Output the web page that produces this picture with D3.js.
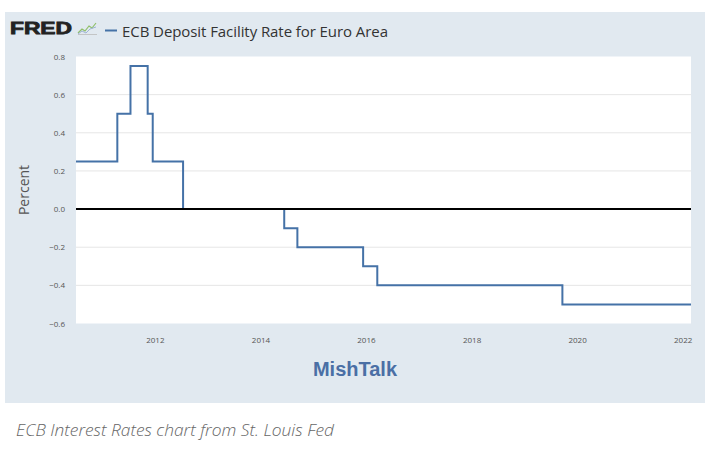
<!DOCTYPE html>
<html>
<head>
<meta charset="utf-8">
<script src="https://cdn.jsdelivr.net/npm/d3@7"></script>
<style>
  body { margin: 0; background: #fff; }
  svg { display: block; }
</style>
</head>
<body>
<script>
var width = 712
var height = 449

// ECB deposit facility rate change dates and new levels (percent)
var changeDates = ['2010-07-01', '2011-04-13', '2011-07-13', '2011-11-09', '2011-12-14',
  '2012-07-11', '2014-06-11', '2014-09-10', '2015-12-09', '2016-03-16', '2019-09-18', '2022-02-24']
var rateValues = [0.25, 0.50, 0.75, 0.50, 0.25, 0.00, -0.10, -0.20, -0.30, -0.40, -0.50, -0.50]
var yTicks = [-0.6, -0.4, -0.2, 0.0, 0.2, 0.4, 0.6, 0.8]
var xTickYears = [2012, 2014, 2016, 2018, 2020, 2022]

var parse = d3.timeParse('%Y-%m-%d')
var data = changeDates.map(function (d, i) {
  return { date: parse(d), value: rateValues[i] }
})

var svg = d3.select('body').append('svg')
  .attr('width', width)
  .attr('height', height)

// background panel
svg.append('rect')
  .attr('x', 5).attr('y', 12)
  .attr('width', 700).attr('height', 391)
  .attr('fill', '#e1e9f0')

var x = d3.scaleTime()
  .domain([parse('2010-07-01'), parse('2022-02-24')])
  .range([76, 691])

var y = d3.scaleLinear()
  .domain([-0.6, 0.8])
  .range([323.5, 56.5])

// plot area
svg.append('rect')
  .attr('x', 76).attr('y', 56.5)
  .attr('width', 615).attr('height', 267)
  .attr('fill', '#fff')

// grid lines
svg.append('g')
  .selectAll('line')
  .data(yTicks.filter(function (d) { return d !== 0 && d !== -0.6 && d !== 0.8 }))
  .enter().append('line')
  .attr('x1', 76).attr('x2', 691)
  .attr('y1', function (d) { return y(d) })
  .attr('y2', function (d) { return y(d) })
  .attr('stroke', '#e6e6e6')
  .attr('stroke-width', 1)

// y tick labels
svg.append('g')
  .selectAll('text')
  .data(yTicks)
  .enter().append('text')
  .attr('x', 65)
  .attr('y', function (d) { return y(d) + 3 })
  .attr('text-anchor', 'end')
  .attr('font-family', 'Open Sans, sans-serif')
  .attr('font-size', 8)
  .attr('fill', '#555')
  .text(function (d) { return d3.format('.1f')(d) })

// x tick labels
svg.append('g')
  .selectAll('text')
  .data(xTickYears)
  .enter().append('text')
  .attr('x', function (d) { return x(new Date(d, 0, 1)) })
  .attr('y', 343)
  .attr('text-anchor', 'middle')
  .attr('font-family', 'Open Sans, sans-serif')
  .attr('font-size', 8)
  .attr('fill', '#555')
  .text(function (d) { return d })

// the series
var line = d3.line()
  .curve(d3.curveStepAfter)
  .x(function (d) { return x(d.date) })
  .y(function (d) { return y(d.value) })

svg.append('path')
  .datum(data)
  .attr('d', line)
  .attr('fill', 'none')
  .attr('stroke', '#4572a7')
  .attr('stroke-width', 2)

// zero line, drawn over the series
svg.append('line')
  .attr('x1', 76).attr('x2', 691)
  .attr('y1', y(0)).attr('y2', y(0))
  .attr('stroke', '#000')
  .attr('stroke-width', 2)

// y axis title
svg.append('text')
  .attr('transform', 'translate(29,190) rotate(-90)')
  .attr('text-anchor', 'middle')
  .attr('font-family', 'Open Sans, sans-serif')
  .attr('font-size', 14)
  .attr('fill', '#555')
  .text('Percent')

// FRED logo
svg.append('text')
  .attr('x', 10).attr('y', 34)
  .attr('font-family', 'Liberation Sans, Arial, sans-serif')
  .attr('font-weight', 'bold')
  .attr('font-size', 16)
  .attr('textLength', 62)
  .attr('lengthAdjust', 'spacingAndGlyphs')
  .attr('fill', '#222')
  .style('stroke', '#222')
  .style('stroke-width', 0.8)
  .text('FRED')

// little chart icon
var icon = svg.append('g').attr('transform', 'translate(78,22)')
icon.append('path')
  .attr('d', 'M0,11 L4,7 L7,9 L11,4 L14,6 L18,1')
  .attr('fill', 'none').attr('stroke', '#8fbf6a').attr('stroke-width', 1.2)
icon.append('path')
  .attr('d', 'M0,12 L4,9 L8,11 L12,7 L18,5')
  .attr('fill', 'none').attr('stroke', '#9fb4d6').attr('stroke-width', 1)
icon.append('line')
  .attr('x1', 0).attr('x2', 19).attr('y1', 12.5).attr('y2', 12.5)
  .attr('stroke', '#bbb').attr('stroke-width', 0.8)

// legend
svg.append('line')
  .attr('x1', 105).attr('x2', 117)
  .attr('y1', 30.5).attr('y2', 30.5)
  .attr('stroke', '#4572a7')
  .attr('stroke-width', 2)

svg.append('text')
  .attr('x', 122).attr('y', 37)
  .attr('font-family', 'Open Sans, sans-serif')
  .attr('font-size', 15)
  .attr('textLength', 266)
  .attr('fill', '#333')
  .text('ECB Deposit Facility Rate for Euro Area')

// watermark
svg.append('text')
  .attr('x', 355).attr('y', 376)
  .attr('text-anchor', 'middle')
  .attr('font-family', 'Liberation Sans, Arial, sans-serif')
  .attr('font-weight', 'bold')
  .attr('font-size', 20)
  .attr('fill', '#4a6fa5')
  .text('MishTalk')

// caption
svg.append('text')
  .attr('x', 16).attr('y', 436)
  .attr('font-family', 'Open Sans, sans-serif')
  .attr('font-style', 'italic')
  .attr('font-weight', 300)
  .attr('font-size', 17)
  .attr('textLength', 318)
  .attr('lengthAdjust', 'spacingAndGlyphs')
  .attr('fill', '#666')
  .text('ECB Interest Rates chart from St. Louis Fed')
</script>
</body>
</html>
